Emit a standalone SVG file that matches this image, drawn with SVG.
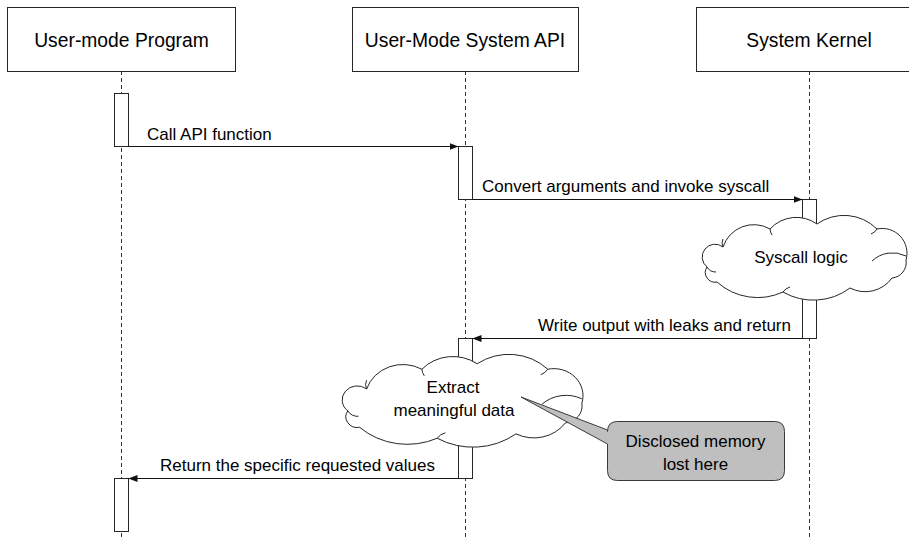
<svg xmlns="http://www.w3.org/2000/svg" width="909" height="540" viewBox="0 0 909 540">
  <style>
    text { font-family: "Liberation Sans", Arial, sans-serif; fill: #000; }
    .title { font-size: 19.3px; text-anchor: middle; }
    .label { font-size: 17px; }
    .mid { text-anchor: middle; }
    .end { text-anchor: end; }
    .box { fill: #fff; stroke: #262626; stroke-width: 1; }
    .life { stroke: #333; stroke-width: 1; stroke-dasharray: 4 3; fill: none; }
    .act { fill: #fff; stroke: #262626; stroke-width: 1; }
    .msg { stroke: #111; stroke-width: 1; fill: none; marker-end: url(#arrow); }
    .cloud { fill: #fff; stroke: #262626; stroke-width: 1; vector-effect: non-scaling-stroke; }
    .cloud-detail { fill: none; stroke: #262626; stroke-width: 1; vector-effect: non-scaling-stroke; }
    .note { fill: #bfbfbf; stroke: #3a3a3a; stroke-width: 1; }
  </style>
  <defs>
    <marker id="arrow" markerUnits="userSpaceOnUse" markerWidth="9" markerHeight="7" refX="9" refY="3.5" orient="auto">
      <path d="M0,0 L9,3.5 L0,7 Z" fill="#111"/>
    </marker>
    <!-- cloud outline, local box roughly 0..207 x -4..80 -->
    <g id="cloudShape">
      <path class="cloud" d="M23,27 A32.4,32.4 0 0 1 70,9 A35.6,35.6 0 0 1 117,4 A46.7,46.7 0 0 1 177,9 A24.7,24.7 0 0 1 206,40 A15.5,15.5 0 0 1 192,58 A33,33 0 0 1 150,68 A61,61 0 0 1 83,72 A60.8,60.8 0 0 1 17,62 A9.75,9.75 0 0 1 7,47 A12.8,12.8 0 0 1 23,27 Z"/>
      <path class="cloud-detail" d="M70,9 A12,12 0 0 0 72,15 M177,9 A12,12 0 0 1 171,14 M206,36 A30,30 0 0 0 172,41 M7,47 A10,10 0 0 0 16,52 M83,72 A12,12 0 0 1 90,67 M23,27 A9,9 0 0 1 23,19"/>
    </g>
  </defs>

  <rect width="909" height="540" fill="#fff"/>

  <!-- lifelines -->
  <g id="lifelines">
    <line class="life" x1="121.5" y1="71" x2="121.5" y2="540"/>
    <line class="life" x1="465.5" y1="71" x2="465.5" y2="540"/>
    <line class="life" x1="809.5" y1="71" x2="809.5" y2="540"/>
  </g>

  <!-- participants -->
  <g id="user-program">
    <rect class="box" x="7.5" y="7.5" width="228" height="64"/>
    <text class="title" x="121.5" y="46.5">User-mode Program</text>
  </g>
  <g id="system-api">
    <rect class="box" x="352.5" y="7.5" width="226" height="64"/>
    <text class="title" x="465" y="46.5">User-Mode System API</text>
  </g>
  <g id="system-kernel">
    <rect class="box" x="696.5" y="7.5" width="226" height="64"/>
    <text class="title" x="809" y="46.5">System Kernel</text>
  </g>

  <!-- activation bars -->
  <g id="activations">
    <rect class="act" x="114.5" y="93.5" width="14" height="53"/>
    <rect class="act" x="458.5" y="146.5" width="14" height="53"/>
    <rect class="act" x="802.5" y="199.5" width="14" height="139"/>
    <rect class="act" x="458.5" y="338.5" width="14" height="140"/>
    <rect class="act" x="114.5" y="478.5" width="14" height="53"/>
  </g>

  <!-- messages -->
  <g id="connectors">
    <line class="msg" x1="128.5" y1="146.5" x2="458.5" y2="146.5"/>
    <line class="msg" x1="472.5" y1="199.5" x2="802.5" y2="199.5"/>
    <line class="msg" x1="802.5" y1="338.5" x2="472.5" y2="338.5"/>
    <line class="msg" x1="458.5" y1="478.5" x2="128.5" y2="478.5"/>
  </g>
  <g id="connector-labels">
    <text class="label" x="147" y="140">Call API function</text>
    <text class="label" x="482" y="192">Convert arguments and invoke syscall</text>
    <text class="label end" x="791" y="331">Write output with leaks and return</text>
    <text class="label" x="160" y="471">Return the specific requested values</text>
  </g>

  <!-- processing clouds -->
  <g id="syscall-logic">
    <use href="#cloudShape" transform="translate(700,220)"/>
    <text class="label mid" x="801" y="263">Syscall logic</text>
  </g>
  <g id="extract-data">
    <use href="#cloudShape" transform="translate(339.6,359.4) scale(1.176,1.095)"/>
    <text class="label mid" x="453" y="393">Extract</text>
    <text class="label mid" x="454" y="416">meaningful data</text>
  </g>

  <!-- callout -->
  <g id="disclosed-note">
    <path class="note" d="M617.5,421.5 H774.5 Q784.5,421.5 784.5,431.5 V470.5 Q784.5,480.5 774.5,480.5 H617.5 Q607.5,480.5 607.5,470.5 V444 L521,397 L607.5,430 V431.5 Q607.5,421.5 617.5,421.5 Z"/>
    <text class="label mid" x="695.5" y="447">Disclosed memory</text>
    <text class="label mid" x="695.5" y="470">lost here</text>
  </g>
</svg>
